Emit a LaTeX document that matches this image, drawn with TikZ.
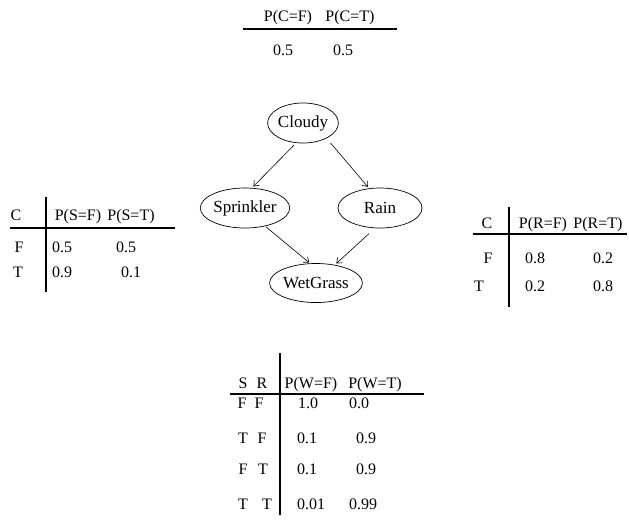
\documentclass[tikz,border=0pt]{standalone}
\usepackage{fontspec}
\setmainfont{Liberation Serif}
\usetikzlibrary{shapes.geometric,arrows.meta}
\begin{document}
\begin{tikzpicture}[x=1pt,y=-1pt,
  cell/.style={inner sep=0pt,text height=10.5pt,text depth=0pt,font=\fontsize{16}{18}\selectfont},
  var/.style={draw,ellipse,line width=0.7pt,inner sep=0pt,font=\fontsize{17}{19}\selectfont},
  rule/.style={line width=1.1pt},
  arr/.style={line width=0.6pt,-{Straight Barb[length=4.5pt,width=7pt]}}]
\useasboundingbox (0,0) rectangle (629,523);
% ---- top table P(C)
\node[cell] (c1) at (288,16) {P(C=F)};
\node[cell] (c2) at (350,16) {P(C=T)};
\coordinate (ct1) at (243,29); \coordinate (ct2) at (397,29);
\draw[rule] (ct1) -- (ct2);
\node[cell] (cv1) at (283,50) {0.5};
\node[cell] (cv2) at (343,50) {0.5};
% ---- network
\node[var,minimum width=70pt,minimum height=40pt] (cloudy) at (303,123) {Cloudy};
\node[var,minimum width=84pt,minimum height=40pt] (sprinkler) at (245,208) {Sprinkler};
\node[var,minimum width=84pt,minimum height=40pt] (rain) at (380,208) {Rain};
\node[var,minimum width=82pt,minimum height=39pt] (wet) at (316,283) {WetGrass};
\draw[arr,shorten <=3pt,shorten >=2pt] (cloudy.251) -- (sprinkler.71);
\draw[arr,shorten <=6pt,shorten >=2pt] (cloudy.-33) -- (rain.119);
\draw[arr,shorten <=1pt,shorten >=1pt] (sprinkler.-42) -- (wet.107);
\draw[arr,shorten <=8pt,shorten >=2pt] (rain.256) -- (wet.44);
% ---- left table P(S|C)
\node[cell] (sc) at (16,215) {C};
\node[cell] (sh1) at (78,215) {P(S=F)};
\node[cell] (sh2) at (131,215) {P(S=T)};
\coordinate (sv1) at (46,197); \coordinate (sv2) at (46,292);
\coordinate (sl1) at (10,228); \coordinate (sl2) at (175,228);
\draw[rule] (sv1) -- (sv2);
\draw[rule] (sl1) -- (sl2);
\node[cell] (sr1) at (19,247) {F};
\node[cell] at (62,247) {0.5};
\node[cell] at (126,247) {0.5};
\node[cell] (sr2) at (18,272) {T};
\node[cell] at (62,272) {0.9};
\node[cell] at (131,272) {0.1};
% ---- right table P(R|C)
\node[cell] (rc) at (487,223) {C};
\node[cell] (rh1) at (543,223) {P(R=F)};
\node[cell] (rh2) at (598,223) {P(R=T)};
\coordinate (rv1) at (509,207); \coordinate (rv2) at (509,307);
\coordinate (rl1) at (473,234); \coordinate (rl2) at (627,234);
\draw[rule] (rv1) -- (rv2);
\draw[rule] (rl1) -- (rl2);
\node[cell] (rr1) at (488,258) {F};
\node[cell] at (535,258) {0.8};
\node[cell] at (603,258) {0.2};
\node[cell] (rr2) at (479,286) {T};
\node[cell] at (535,286) {0.2};
\node[cell] at (603,286) {0.8};
% ---- bottom table P(W|S,R)
\node[cell] (ws) at (243,383) {S};
\node[cell] (wr) at (262,383) {R};
\node[cell] (wh1) at (311,383) {P(W=F)};
\node[cell] (wh2) at (375,383) {P(W=T)};
\coordinate (wv1) at (280,353); \coordinate (wv2) at (280,515);
\coordinate (wl1) at (230,394); \coordinate (wl2) at (424,394);
\draw[rule] (wv1) -- (wv2);
\draw[rule] (wl1) -- (wl2);
\node[cell] at (242,403) {F}; \node[cell] at (259,403) {F};
\node[cell] at (308,403) {1.0}; \node[cell] at (359,403) {0.0};
\node[cell] at (243,438) {T}; \node[cell] at (262,438) {F};
\node[cell] at (307,438) {0.1}; \node[cell] at (366,438) {0.9};
\node[cell] at (243,469) {F}; \node[cell] at (263,469) {T};
\node[cell] at (307,469) {0.1}; \node[cell] at (366,469) {0.9};
\node[cell] at (243,504) {T}; \node[cell] at (267,504) {T};
\node[cell] at (311,504) {0.01}; \node[cell] at (363,504) {0.99};
\end{tikzpicture}
\end{document}
